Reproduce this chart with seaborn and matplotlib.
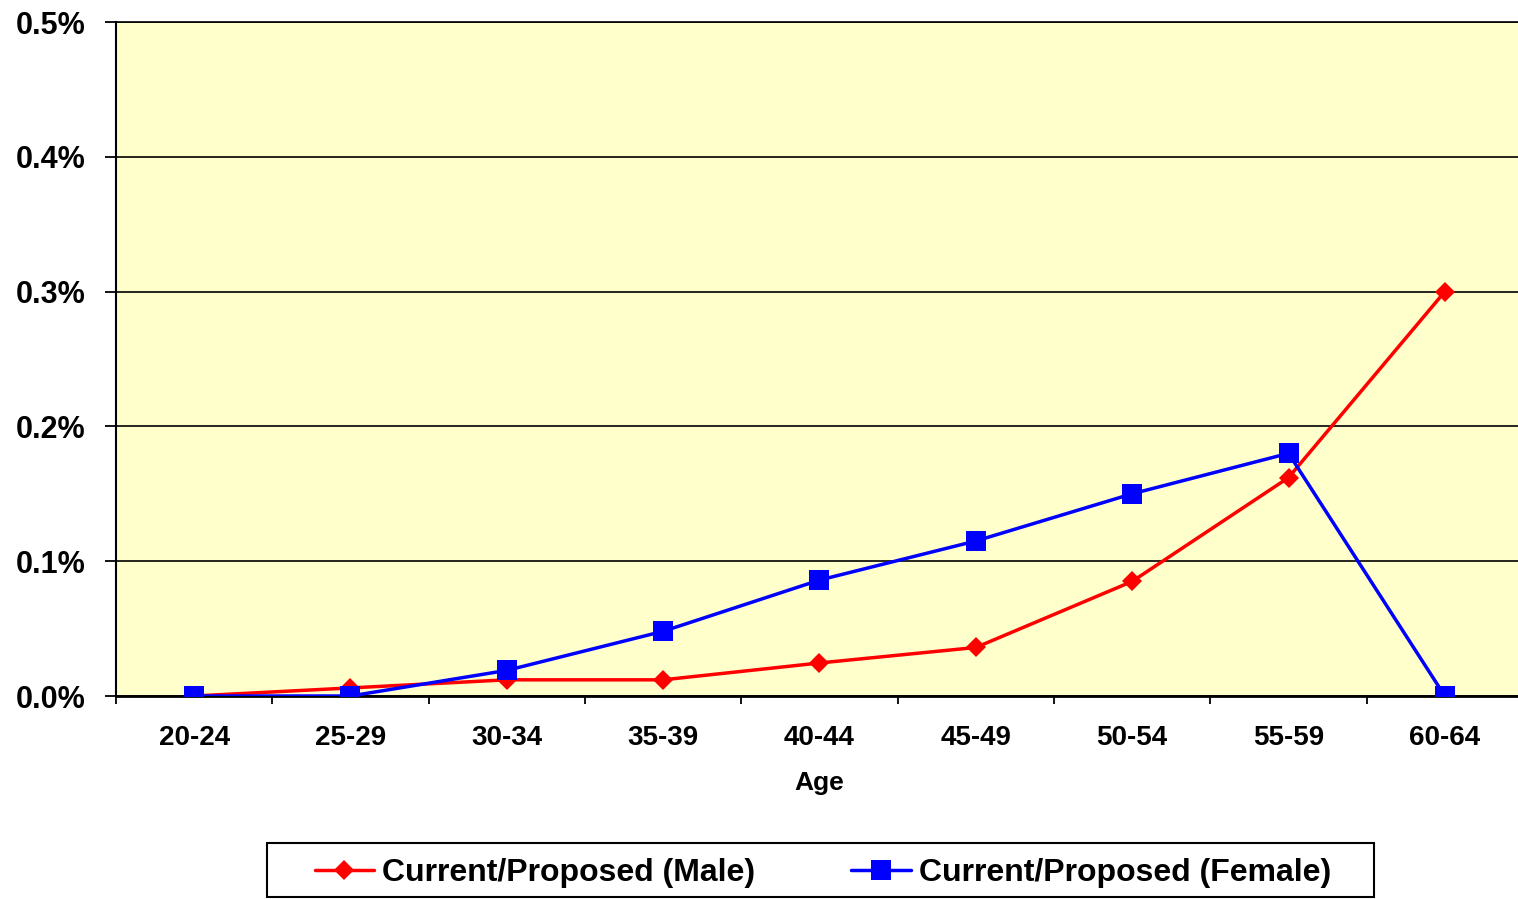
import matplotlib
matplotlib.use("Agg")
import matplotlib.pyplot as plt
from matplotlib.patches import Rectangle
from matplotlib.ticker import PercentFormatter
import numpy as np
import pandas as pd
import seaborn as sns

ages = ["20-24", "25-29", "30-34", "35-39", "40-44", "45-49", "50-54", "55-59", "60-64"]
male = [0.0, 0.006, 0.012, 0.012, 0.0245, 0.036, 0.085, 0.162, 0.300]
female = [0.0, 0.0, 0.019, 0.048, 0.086, 0.115, 0.150, 0.180, 0.0]
yticks = [0.0, 0.001, 0.002, 0.003, 0.004, 0.005]

male_name = "Current/Proposed (Male)"
female_name = "Current/Proposed (Female)"

df = pd.DataFrame({
    "Age": ages * 2,
    "rate": [v / 100 for v in male] + [v / 100 for v in female],
    "series": [male_name] * len(ages) + [female_name] * len(ages),
})
df["pos"] = df["Age"].map({a: i for i, a in enumerate(ages)})

sns.set_style("white")
plt.rcParams["font.family"] = ["Liberation Sans", "DejaVu Sans"]
plt.rcParams["font.weight"] = "bold"
for k in ["text.color", "xtick.color", "ytick.color", "axes.labelcolor"]:
    plt.rcParams[k] = "black"

fig = plt.figure(figsize=(15.18, 8.99), dpi=100)
ax = fig.add_axes([116 / 1518, 1 - 696 / 899, 1407 / 1518, 674 / 899])
ax.set_facecolor("#FFFFCC")

sns.lineplot(data=df[df.series == male_name], x="pos", y="rate", ax=ax,
             color="#FF0000", marker="D", markersize=10, linewidth=2.5,
             markeredgewidth=0, label=male_name, zorder=3)
sns.lineplot(data=df[df.series == female_name], x="pos", y="rate", ax=ax,
             color="#0000FF", marker="s", markersize=14, linewidth=2.5,
             markeredgewidth=0, label=female_name, zorder=4)

ax.set_xlim(-0.5, 8.5)
ax.set_ylim(0, 0.005)
ax.set_yticks(yticks)
ax.yaxis.set_major_formatter(PercentFormatter(xmax=1, decimals=1))
ax.grid(axis="y", color="black", linewidth=1.2)
ax.set_axisbelow(True)

ax.set_xticks(range(len(ages)))
ax.set_xticklabels(ages)
ax.set_xticks(np.arange(-0.5, len(ages), 1), minor=True)
ax.tick_params(axis="x", which="major", length=0, pad=21, labelsize=20)
ax.tick_params(axis="x", which="minor", length=6, width=1.3, direction="out", bottom=True)
ax.tick_params(axis="y", length=8, width=1.3, direction="out", left=True, pad=14, labelsize=22)
for t in ax.get_xticklabels() + ax.get_yticklabels():
    t.set_fontweight("bold")

ax.set_xlabel("Age", fontsize=19, fontweight="bold", labelpad=14)
ax.set_ylabel("")

ax.spines["right"].set_visible(False)
ax.spines["top"].set_linewidth(1.2)
ax.spines["left"].set_linewidth(1.5)
ax.spines["bottom"].set_linewidth(2)
for s in ["top", "left", "bottom"]:
    ax.spines[s].set_color("black")

# legend, with its box drawn separately to match the wide padding
ax.get_legend().remove()
handles, labels = ax.get_legend_handles_labels()
leg = fig.legend(handles, labels, loc="center", bbox_to_anchor=(823 / 1518, 1 - 873 / 899),
                 ncol=2, fontsize=23, frameon=False,
                 handlelength=1.875, handletextpad=0.25, columnspacing=3.0,
                 borderpad=0, borderaxespad=0)
for t in leg.get_texts():
    t.set_fontweight("bold")
fig.patches.append(Rectangle((267 / 1518, 1 - 897 / 899), 1107 / 1518, 54 / 899,
                             transform=fig.transFigure, fill=False,
                             edgecolor="black", linewidth=1.5))

fig.savefig("out.png", dpi=100)
